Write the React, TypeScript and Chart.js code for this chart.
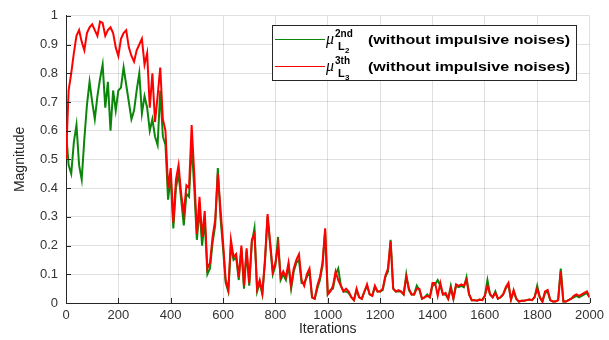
import React, { useEffect, useRef } from "react";
import { Chart, registerables } from "chart.js";

Chart.register(...registerables);

// sampling grid of the iteration axis
const ITER_STEP = 10;

const xTickValues = [0, 200, 400, 600, 800, 1000, 1200, 1400, 1600, 1800, 2000];
const yTickValues = [0, 0.1, 0.2, 0.3, 0.4, 0.5, 0.6, 0.7, 0.8, 0.9, 1];

// mu_L3^3th (red), one value every 10 iterations, 0..2000
const redSeries = [
  0.50, 0.74, 0.80, 0.87, 0.93, 0.95, 0.91, 0.88, 0.94, 0.96,
  0.97, 0.95, 0.93, 0.98, 0.975, 0.93, 0.95, 0.96, 0.94, 0.89,
  0.86, 0.92, 0.94, 0.95, 0.89, 0.86, 0.84, 0.88, 0.90, 0.92,
  0.83, 0.87, 0.68, 0.80, 0.63, 0.72, 0.82, 0.64, 0.60, 0.40,
  0.47, 0.28, 0.43, 0.48, 0.38, 0.31, 0.41, 0.40, 0.62, 0.45,
  0.24, 0.37, 0.23, 0.32, 0.12, 0.14, 0.23, 0.29, 0.45, 0.33,
  0.21, 0.08, 0.045, 0.22, 0.16, 0.17, 0.09, 0.20, 0.06, 0.19,
  0.07, 0.22, 0.24, 0.05, 0.08, 0.035, 0.15, 0.31, 0.21, 0.11,
  0.14, 0.20, 0.09, 0.11, 0.09, 0.14, 0.06, 0.12, 0.15, 0.17,
  0.08, 0.06, 0.10, 0.12, 0.02, 0.015, 0.06, 0.09, 0.14, 0.26,
  0.03, 0.04, 0.06, 0.11, 0.08, 0.06, 0.04, 0.05, 0.04, 0.02,
  0.01, 0.05, 0.02, 0.015, 0.04, 0.065, 0.03, 0.025, 0.06, 0.04,
  0.04, 0.05, 0.095, 0.12, 0.215, 0.05, 0.04, 0.045, 0.04, 0.03,
  0.09, 0.05, 0.03, 0.03, 0.05, 0.05, 0.015, 0.02, 0.025, 0.02,
  0.07, 0.07, 0.025, 0.07, 0.03, 0.035, 0.015, 0.05, 0.015, 0.065,
  0.06, 0.065, 0.06, 0.08, 0.03, 0.01, 0.01, 0.008, 0.012, 0.01,
  0.025, 0.06, 0.03, 0.02, 0.035, 0.015, 0.02, 0.03, 0.055, 0.07,
  0.012, 0.045, 0.015, 0.005, 0.008, 0.008, 0.01, 0.012, 0.01, 0.02,
  0.05, 0.02, 0.005, 0.04, 0.045, 0.01, 0.005, 0.005, 0.01, 0.11,
  0.005, 0.005, 0.01, 0.015, 0.025, 0.03, 0.025, 0.03, 0.035, 0.04,
  0.02,
];

// mu_L2^2nd (green), one value every 10 iterations, 0..2000
const greenSeries = [
  0.60, 0.48, 0.45, 0.56, 0.62, 0.48, 0.43, 0.57, 0.69, 0.77,
  0.70, 0.64, 0.72, 0.78, 0.83, 0.68, 0.77, 0.60, 0.74, 0.67,
  0.74, 0.75, 0.82, 0.76, 0.70, 0.64, 0.67, 0.74, 0.80, 0.66,
  0.72, 0.68, 0.60, 0.64, 0.58, 0.55, 0.74, 0.58, 0.55, 0.36,
  0.44, 0.26, 0.40, 0.45, 0.36, 0.27, 0.38, 0.37, 0.55, 0.40,
  0.22, 0.33, 0.20, 0.29, 0.10, 0.12, 0.21, 0.27, 0.47, 0.30,
  0.19, 0.07, 0.04, 0.20, 0.15, 0.16, 0.08, 0.19, 0.05, 0.18,
  0.06, 0.21, 0.26, 0.04, 0.07, 0.03, 0.14, 0.30, 0.20, 0.10,
  0.13, 0.23, 0.08, 0.10, 0.08, 0.13, 0.05, 0.11, 0.14, 0.15,
  0.07, 0.07, 0.09, 0.11, 0.02, 0.015, 0.05, 0.08, 0.13, 0.25,
  0.03, 0.045, 0.05, 0.10, 0.12, 0.06, 0.04, 0.04, 0.035, 0.02,
  0.01, 0.045, 0.02, 0.015, 0.04, 0.06, 0.03, 0.025, 0.055, 0.04,
  0.04, 0.045, 0.09, 0.11, 0.22, 0.05, 0.04, 0.04, 0.04, 0.03,
  0.10, 0.045, 0.03, 0.03, 0.06, 0.045, 0.015, 0.02, 0.03, 0.02,
  0.06, 0.065, 0.08, 0.06, 0.03, 0.03, 0.015, 0.06, 0.015, 0.06,
  0.055, 0.06, 0.055, 0.09, 0.03, 0.01, 0.01, 0.008, 0.012, 0.01,
  0.025, 0.08, 0.03, 0.02, 0.04, 0.015, 0.02, 0.03, 0.05, 0.065,
  0.012, 0.04, 0.015, 0.005, 0.008, 0.008, 0.01, 0.012, 0.01, 0.02,
  0.06, 0.02, 0.005, 0.035, 0.04, 0.01, 0.005, 0.005, 0.01, 0.12,
  0.005, 0.005, 0.01, 0.015, 0.02, 0.025, 0.02, 0.025, 0.03, 0.035,
  0.02,
];

const GREEN = "#0a870a";
const RED = "#ff0000";
const AXIS = "#262626";
const FONT = '"Liberation Sans", Arial, Helvetica, sans-serif';

const legendEntries = [
  { color: GREEN, sup: "2nd", sub: "2", text: "(without impulsive noises)" },
  { color: RED, sup: "3th", sub: "3", text: "(without impulsive noises)" },
];

const toPoints = (vals: number[]) => vals.map((v, i) => ({ x: i * ITER_STEP, y: v }));

const innerTicksPlugin = {
  id: "innerTicks",
  afterDraw(chart: any) {
    const { ctx, chartArea, scales } = chart;
    ctx.save();
    ctx.strokeStyle = AXIS;
    ctx.lineWidth = 1;
    ctx.beginPath();
    yTickValues.forEach((v) => {
      const y = Math.round(scales.y.getPixelForValue(v)) + 0.5;
      ctx.moveTo(chartArea.left, y);
      ctx.lineTo(chartArea.left + 5, y);
    });
    xTickValues.forEach((v) => {
      const x = Math.round(scales.x.getPixelForValue(v)) + 0.5;
      ctx.moveTo(x, chartArea.bottom);
      ctx.lineTo(x, chartArea.bottom - 5);
    });
    ctx.stroke();
    ctx.restore();
  },
};

const legendPlugin = {
  id: "mathLegend",
  afterDraw(chart: any) {
    const { ctx, chartArea } = chart;
    const bx = Math.round(chartArea.right - 318);
    const by = Math.round(chartArea.top + 9);
    const bw = 304;
    const bh = 55;
    ctx.save();
    ctx.fillStyle = "#ffffff";
    ctx.fillRect(bx, by, bw, bh);
    ctx.strokeStyle = AXIS;
    ctx.lineWidth = 1;
    ctx.strokeRect(bx + 0.5, by + 0.5, bw, bh);
    legendEntries.forEach((e, i) => {
      const ly = by + 14 + i * 27;
      ctx.strokeStyle = e.color;
      ctx.lineWidth = 1.2;
      ctx.beginPath();
      ctx.moveTo(bx + 3, ly + 0.5);
      ctx.lineTo(bx + 53, ly + 0.5);
      ctx.stroke();
      ctx.fillStyle = "#000000";
      ctx.textAlign = "left";
      ctx.textBaseline = "alphabetic";
      ctx.font = 'italic 16px "Liberation Serif", serif';
      ctx.fillText("\u03bc", bx + 54, ly + 5);
      ctx.font = `bold 10px ${FONT}`;
      ctx.fillText(e.sup, bx + 63, ly - 2);
      ctx.font = `bold 11px ${FONT}`;
      ctx.fillText("L", bx + 66, ly + 11);
      ctx.font = `bold 8px ${FONT}`;
      ctx.fillText(e.sub, bx + 73, ly + 14);
      ctx.font = `bold 13px ${FONT}`;
      const w = ctx.measureText(e.text).width;
      ctx.save();
      ctx.translate(bx + 96, ly + 1);
      ctx.scale(202 / w, 1);
      ctx.textBaseline = "middle";
      ctx.fillText(e.text, 0, 0);
      ctx.restore();
    });
    ctx.restore();
  },
};

export default function App() {
  const canvasRef = useRef<HTMLCanvasElement | null>(null);

  useEffect(() => {
    const canvas = canvasRef.current;
    if (!canvas) return;
    const chart = new Chart(canvas, {
      type: "line",
      data: {
        datasets: [
          {
            label: "mu_L3^3th (without impulsive noises)",
            data: toPoints(redSeries),
            borderColor: RED,
            backgroundColor: RED,
            borderWidth: 2,
            pointRadius: 0,
            tension: 0,
            order: 0,
          },
          {
            label: "mu_L2^2nd (without impulsive noises)",
            data: toPoints(greenSeries),
            borderColor: GREEN,
            backgroundColor: GREEN,
            borderWidth: 2,
            pointRadius: 0,
            tension: 0,
            order: 1,
          },
        ],
      },
      options: {
        responsive: false,
        animation: false,
        devicePixelRatio: 1,
        layout: { padding: { left: 8, top: 14, right: 16, bottom: 0 } },
        plugins: {
          legend: { display: false },
          tooltip: { enabled: false },
        },
        scales: {
          x: {
            type: "linear",
            min: 0,
            max: 2000,
            afterFit: (s: any) => {
              s.height = 37;
            },
            afterBuildTicks: (s: any) => {
              s.ticks = xTickValues.map((v) => ({ value: v }));
            },
            ticks: {
              padding: 5,
              color: "#333333",
              font: { family: FONT, size: 13 },
              maxRotation: 0,
              callback: (v: any) => String(v),
            },
            grid: { color: "rgba(0,0,0,0.12)", lineWidth: 1, drawTicks: false },
            border: { color: AXIS, width: 1 },
            title: {
              display: true,
              text: "Iterations",
              color: "#262626",
              font: { family: FONT, size: 14 },
              padding: { top: 0, bottom: 2 },
            },
          },
          y: {
            type: "linear",
            min: 0,
            max: 1,
            afterFit: (s: any) => {
              s.width = 58;
            },
            afterBuildTicks: (s: any) => {
              s.ticks = yTickValues.map((v) => ({ value: v }));
            },
            ticks: {
              padding: 8,
              color: "#333333",
              font: { family: FONT, size: 13 },
              callback: (v: any) => {
                const n = Number(v);
                if (n === 0) return "0";
                if (n === 1) return "1";
                return n.toFixed(1);
              },
            },
            grid: { color: "rgba(0,0,0,0.12)", lineWidth: 1, drawTicks: false },
            border: { color: AXIS, width: 1 },
            title: {
              display: true,
              text: "Magnitude",
              color: "#262626",
              font: { family: FONT, size: 14 },
              padding: { top: 4, bottom: 4 },
            },
          },
        },
      },
      plugins: [innerTicksPlugin, legendPlugin],
    });
    return () => chart.destroy();
  }, []);

  return (
    <div
      style={{
        position: "absolute",
        left: 0,
        top: 0,
        width: 609,
        height: 340,
        background: "#ffffff",
      }}
    >
      <canvas ref={canvasRef} width={609} height={340} />
    </div>
  );
}
